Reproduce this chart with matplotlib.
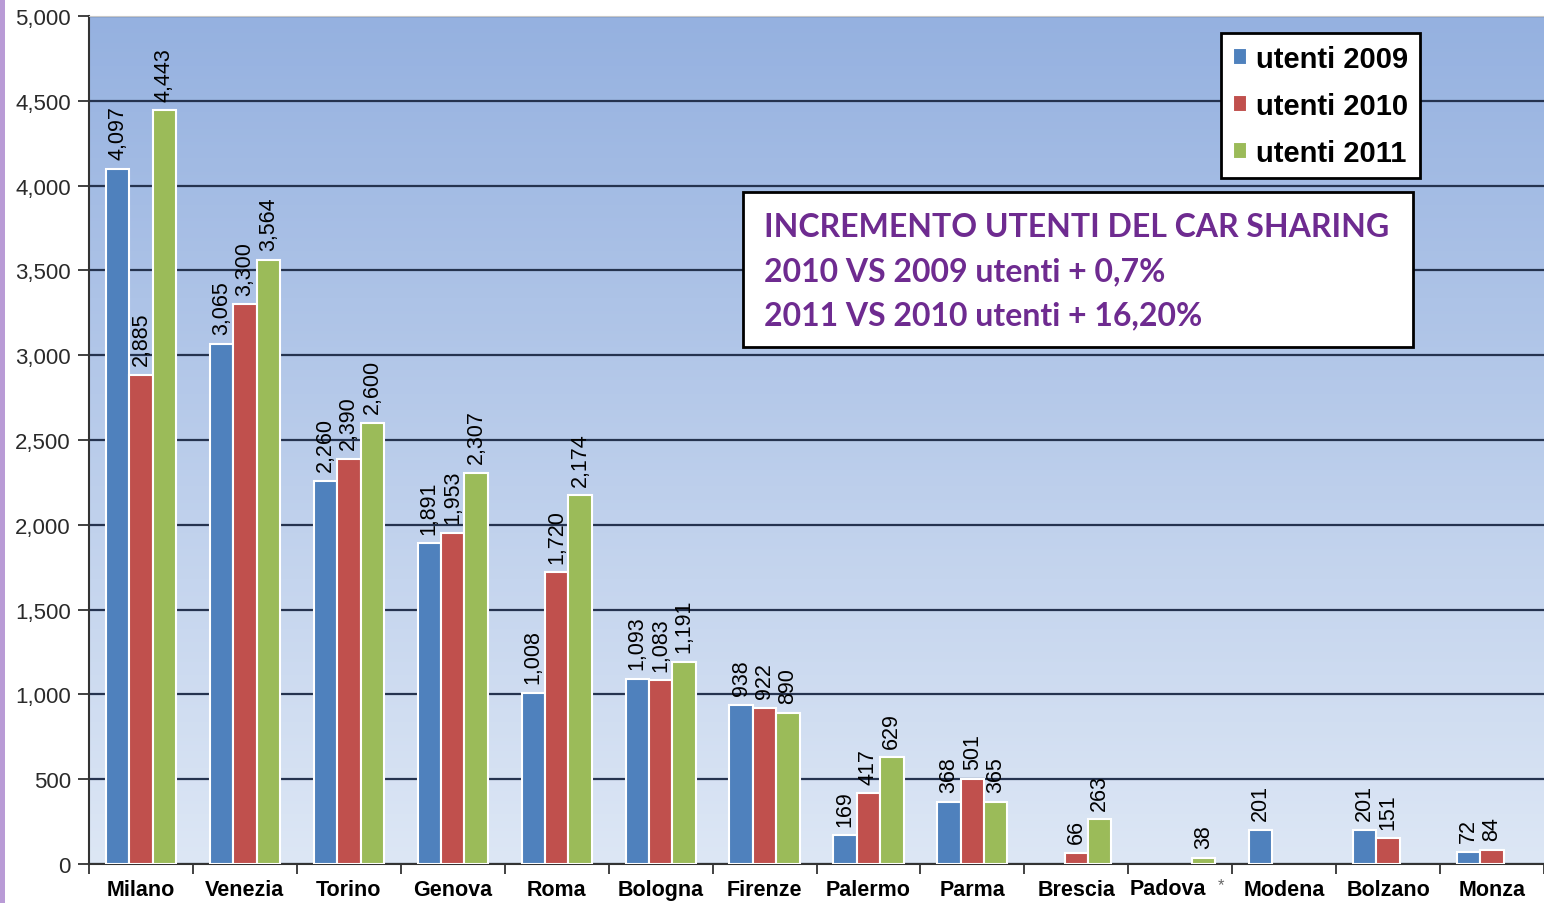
import matplotlib
matplotlib.use("Agg")
import matplotlib.pyplot as plt
import numpy as np
from matplotlib.patches import Rectangle
from matplotlib.colors import LinearSegmentedColormap

CITIES = ["Milano", "Venezia", "Torino", "Genova", "Roma", "Bologna", "Firenze",
          "Palermo", "Parma", "Brescia", "Padova", "Modena", "Bolzano", "Monza"]

# NaN = no value in that year
UTENTI_2009 = [4097, 3065, 2260, 1891, 1008, 1093, 938, 169, 368, np.nan, np.nan, 201, 201, 72]
UTENTI_2010 = [2885, 3300, 2390, 1953, 1720, 1083, 922, 417, 501, 66, np.nan, np.nan, 151, 84]
UTENTI_2011 = [4443, 3564, 2600, 2307, 2174, 1191, 890, 629, 365, 263, 38, np.nan, np.nan, np.nan]

SERIES = [
    ("utenti 2009", UTENTI_2009, "#4f81bd"),
    ("utenti 2010", UTENTI_2010, "#c0504d"),
    ("utenti 2011", UTENTI_2011, "#9bbb59"),
]

BOX_LINES = [
    "INCREMENTO UTENTI DEL CAR SHARING",
    "2010 VS 2009 utenti + 0,7%",
    "2011 VS 2010 utenti + 16,20%",
]


def main() -> None:
    plt.rcParams["font.family"] = ["Liberation Sans", "DejaVu Sans"]

    fig = plt.figure(figsize=(15.44, 9.04), dpi=100)
    fig.patch.set_facecolor("white")

    # purple stripe on the left edge of the slide
    fig.patches.append(Rectangle((0, 0), 5 / 1544, 1, transform=fig.transFigure,
                                 facecolor="#b99bd6", edgecolor="none"))

    ax = fig.add_axes([89 / 1544, 1 - 865 / 904, 1 - 89 / 1544, 848 / 904])

    # gradient background of the plot area
    grad = np.linspace(0, 1, 256).reshape(-1, 1)
    cmap = LinearSegmentedColormap.from_list("bg", ["#dde7f5", "#95b1e0"])
    ax.imshow(grad, cmap=cmap, aspect="auto", extent=[0, 1, 0, 1],
              transform=ax.transAxes, origin="lower", zorder=0)

    n = len(CITIES)
    x = np.arange(n)
    w = 0.225

    for i, (label, vals, color) in enumerate(SERIES):
        vals = np.array(vals, dtype=float)
        pos = x + (i - 1) * w
        mask = ~np.isnan(vals)
        ax.bar(pos[mask], vals[mask], width=w, color=color, edgecolor="white",
               linewidth=1.5, label=label, zorder=3)
        for px, v in zip(pos[mask], vals[mask]):
            ax.annotate(f"{int(v):,}", (px, v), xytext=(0, 7), textcoords="offset points",
                        rotation=90, ha="center", va="bottom", fontsize=15.5,
                        color="black", zorder=4)

    ax.set_xlim(-0.5, n - 0.5)
    ax.set_ylim(0, 5000)
    ax.set_yticks(np.arange(0, 5001, 500))
    ax.set_yticklabels([f"{v:,}" for v in range(0, 5001, 500)], fontsize=16, color="#2a2a2a")
    ax.yaxis.grid(True, color="#25334f", linewidth=1.6, zorder=1)
    ax.set_axisbelow(True)

    ax.set_xticks(x)
    ax.set_xticklabels([c if c != "Padova" else "" for c in CITIES],
                       fontsize=15.5, fontweight="bold")
    ax.tick_params(axis="x", length=0, pad=11)
    ax.set_xticks(np.arange(n + 1) - 0.5, minor=True)
    ax.tick_params(axis="x", which="minor", length=7, width=1.3, color="#333333")
    ax.tick_params(axis="y", length=8, width=1.3, color="#333333", pad=5)

    # Padova label with its asterisk, centred as a whole
    pad_i = CITIES.index("Padova")
    ax.annotate("Padova", (pad_i, 0), xytext=(-9, -17.5), textcoords="offset points",
                ha="center", va="center", fontsize=15.5, fontweight="bold")
    ax.annotate("*", (pad_i, 0), xytext=(27, -15), textcoords="offset points",
                ha="left", va="center", fontsize=12, color="#666666")

    for side in ["left", "bottom"]:
        ax.spines[side].set_color("#333333")
        ax.spines[side].set_linewidth(1.5)
    ax.spines["right"].set_visible(False)
    ax.spines["top"].set_color("#c8c8c8")

    leg = ax.legend(loc="upper left", bbox_to_anchor=((1221 - 89) / 1455, (865 - 34) / 848),
                    prop={"weight": "bold", "size": 21},
                    frameon=True, fancybox=False, handlelength=0.5, handleheight=0.5,
                    handletextpad=0.3, labelspacing=0.65, borderpad=0.4,
                    borderaxespad=0)
    leg.get_frame().set_edgecolor("black")
    leg.get_frame().set_linewidth(2)
    leg.get_frame().set_facecolor("white")
    leg.get_frame().set_alpha(1)
    leg.set_zorder(6)

    # text box with the increments
    bx0, by0, bx1, by1 = 743, 193, 1413, 348
    fig.patches.append(Rectangle((bx0 / 1544, 1 - by1 / 904), (bx1 - bx0) / 1544,
                                 (by1 - by0) / 904, transform=fig.transFigure,
                                 facecolor="white", edgecolor="black", linewidth=2, zorder=7))
    for j, line in enumerate(BOX_LINES):
        fig.text(764 / 1544, 1 - (237 + j * 44) / 904, line, ha="left", va="baseline",
                 fontsize=23, fontweight="bold", color="#6e2b90",
                 family=["Lato", "DejaVu Sans"], zorder=8)

    fig.savefig("out.png", dpi=100)


if __name__ == "__main__":
    main()
